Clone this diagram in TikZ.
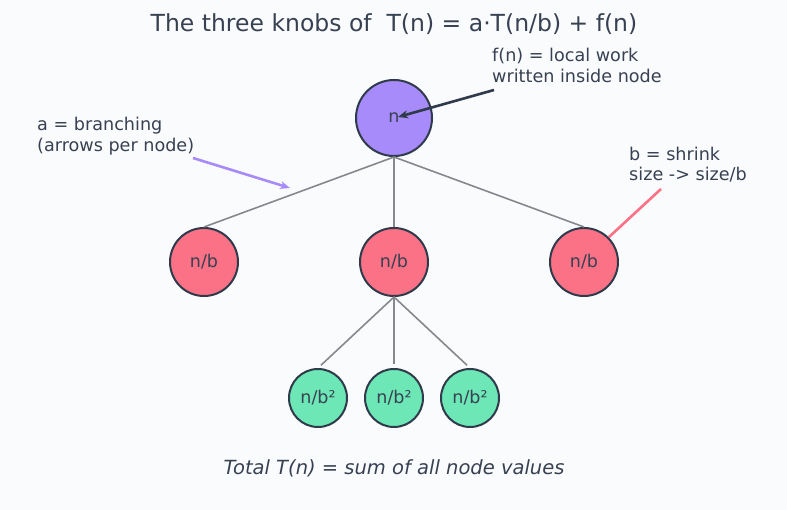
\documentclass[tikz,border=0pt]{standalone}
\usepackage{fontspec}
\setmainfont{DejaVu Sans}
\usetikzlibrary{arrows.meta}
\definecolor{bgc}{HTML}{FAFBFD}
\definecolor{ink}{HTML}{374151}
\definecolor{rim}{HTML}{2F3A4B}
\definecolor{rootc}{HTML}{A78BFA}
\definecolor{midc}{HTML}{FB7185}
\definecolor{leafc}{HTML}{6EE7B7}
\definecolor{edgec}{HTML}{85888D}
\begin{document}
\begin{tikzpicture}[x=1pt, y=-1pt,
  knob/.style={circle, draw=rim, line width=2pt, inner sep=0pt, text=ink, font=\fontsize{17.5}{17.5}\selectfont},
  edge/.style={draw=edgec, line width=1.6pt},
  note/.style={align=left, anchor=north west, text=ink, font=\fontsize{17.6}{20.5}\selectfont, inner sep=0pt},
  callout/.style={->, >={Stealth[length=10pt, width=8pt]}, line width=2.6pt}]
\fill[bgc] (0,0) rectangle (787,510);
\useasboundingbox (0,0) rectangle (787,510);
\node[text=ink, font=\fontsize{23.5}{26}\selectfont] (title) at (394,24) {The three knobs of \ T(n) = a·T(n/b) + f(n)};
% tree
\node[knob, fill=rootc, minimum size=76pt] (root) at (394,118) {n};
\node[knob, fill=midc, minimum size=68pt] (m1) at (204,262) {n/b};
\node[knob, fill=midc, minimum size=68pt] (m2) at (394,262) {n/b};
\node[knob, fill=midc, minimum size=68pt] (m3) at (584,262) {n/b};
\node[knob, fill=leafc, minimum size=58pt] (l1) at (318,398) {n/b²};
\node[knob, fill=leafc, minimum size=58pt] (l2) at (394,398) {n/b²};
\node[knob, fill=leafc, minimum size=58pt] (l3) at (470,398) {n/b²};
\foreach \c in {m1,m2,m3} \draw[edge] (root.south) -- (\c.north);
\foreach \c in {l1,l2,l3} \draw[edge, shorten >=4pt] (m2.south) -- (\c.north);
% annotations
\node[note] (fn) at (492,48) {f(n) = local work\\written inside node};
\coordinate (fnbeg) at (494,90);
\coordinate (fnend) at (398,117);
\draw[callout, draw=rim] (fnbeg) -- (fnend);
\node[note] (an) at (37,117) {a = branching\\(arrows per node)};
\coordinate (anbeg) at (193,158);
\coordinate (anend) at (290,188);
\draw[callout, draw=rootc] (anbeg) -- (anend);
\node[note] (bn) at (629,146.5) {b = shrink\\size -> size/b};
\coordinate (bnbeg) at (661,189);
\draw[draw=midc, line width=2.6pt] (bnbeg) -- (m3.45);
\node[text=ink, font=\fontsize{19.5}{22}\selectfont\itshape] (total) at (394,468) {Total T(n) = sum of all node values};
\end{tikzpicture}
\end{document}
